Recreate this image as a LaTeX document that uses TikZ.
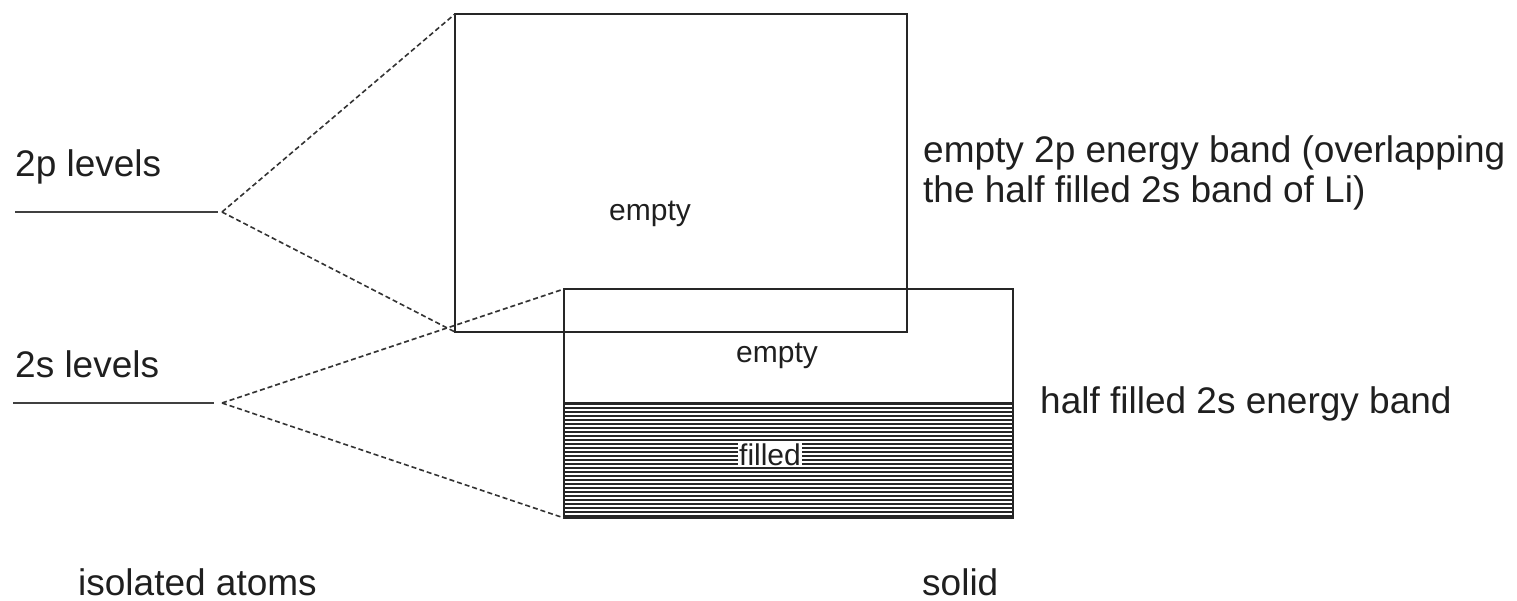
\documentclass[tikz,border=0pt]{standalone}
\usepackage{fontspec}
\setmainfont{Liberation Sans}
\begin{document}
\begin{tikzpicture}[x=1pt,y=-1pt,
  bigtxt/.style={anchor=base west,inner sep=0pt,font=\fontsize{37}{44}\selectfont,text=black!88},
  smalltxt/.style={anchor=base,inner sep=0pt,font=\fontsize{30}{36}\selectfont,text=black!88},
  level/.style={line width=2pt,draw=black!75},
  dashline/.style={line width=1.6pt,draw=black!80,dash pattern=on 5pt off 3pt},
  band/.style={line width=2pt,draw=black!85},
  hatch/.style={line width=1.9pt,draw=black!85}]
\useasboundingbox (0,0) rectangle (1517,601);
% level lines
\coordinate (p2a) at (15,212);
\coordinate (p2b) at (218,212);
\coordinate (p2apex) at (222,212);
\coordinate (s2a) at (13,403);
\coordinate (s2b) at (214,403);
\coordinate (s2apex) at (222,403);
\draw[level] (p2a) -- (p2b);
\draw[level] (s2a) -- (s2b);
% bands
\coordinate (pTL) at (455,14);
\coordinate (pBR) at (907,332);
\coordinate (pBL) at (455,332);
\coordinate (sTL) at (564,289);
\coordinate (sBR) at (1013,518);
\coordinate (sBL) at (564,518);
% hatching of filled part
\foreach \yy in {404,408,...,516} {
  \draw[hatch] (564,\yy) -- (1013,\yy);
}
\draw[band] (pTL) rectangle (pBR);
\draw[band] (sTL) rectangle (sBR);
\draw[band] (564,403) -- (1013,403);
% dashed connectors
\draw[dashline] (p2apex) -- (pTL);
\draw[dashline] (p2apex) -- (pBL);
\draw[dashline] (s2apex) -- (sTL);
\draw[dashline] (s2apex) -- (sBL);
% labels
\node[bigtxt] (l2p) at (15,177) {2p levels};
\node[bigtxt] (l2s) at (15,377) {2s levels};
\node[bigtxt] (lemp) at (923,163) {empty 2p energy band (overlapping};
\node[bigtxt] (lemp2) at (923,203) {the half filled 2s band of Li)};
\node[bigtxt] (lhalf) at (1040,413) {half filled 2s energy band};
\node[bigtxt] (liso) at (78,595) {isolated atoms};
\node[bigtxt] (lsol) at (922,595) {solid};
\node[smalltxt] (e1) at (650,221) {empty};
\node[smalltxt] (e2) at (777,362) {empty};
\node[smalltxt,fill=white,inner xsep=1pt,inner ysep=2pt] (fl) at (770,465) {filled};
\end{tikzpicture}
\end{document}
